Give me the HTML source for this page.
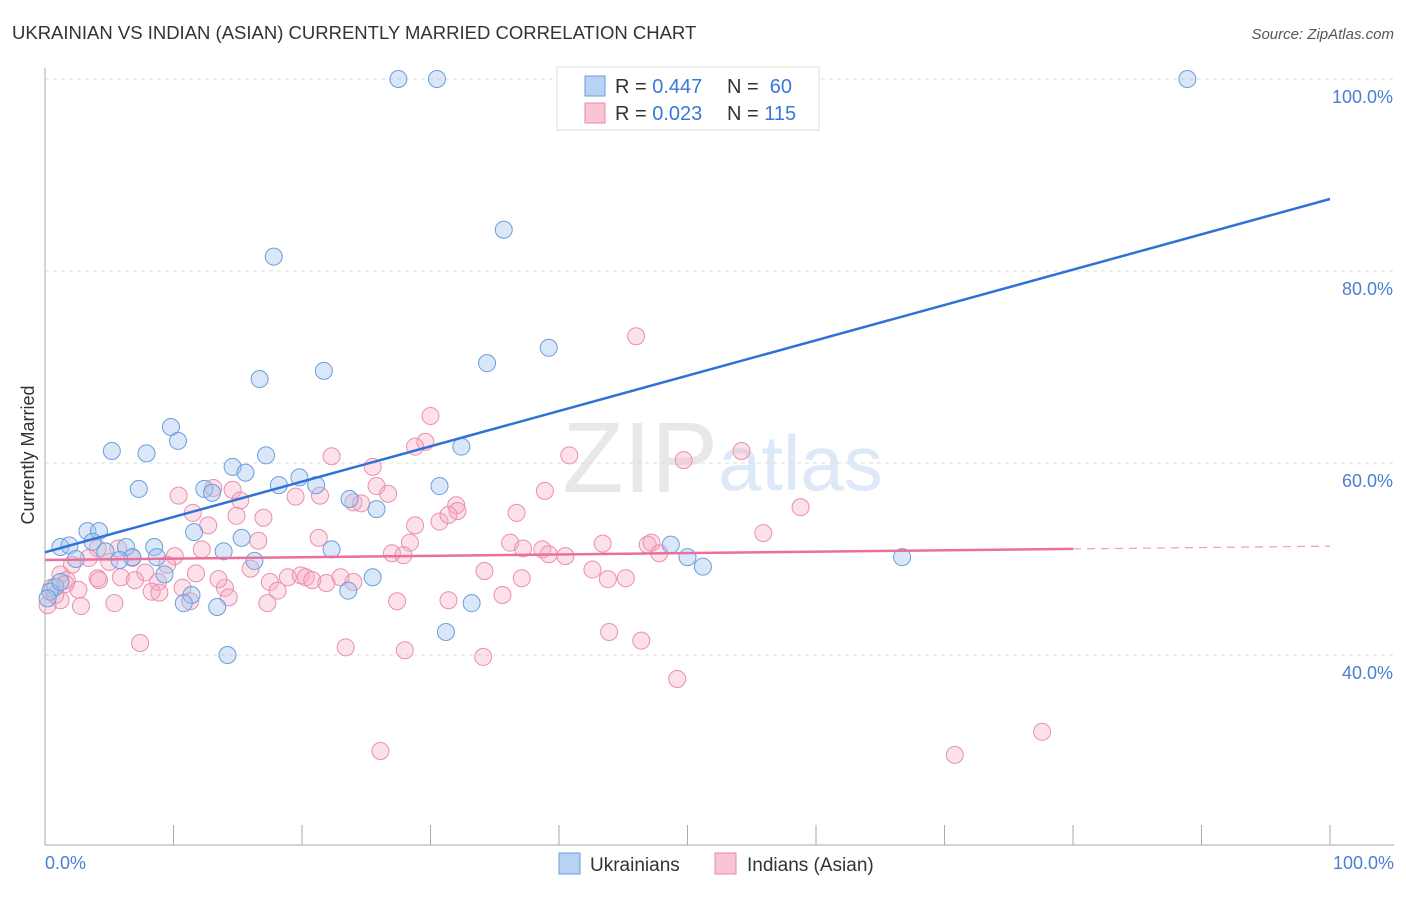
<!DOCTYPE html>
<html><head><meta charset="utf-8"><style>
body{margin:0;background:#fff;font-family:"Liberation Sans",sans-serif}
svg text{font-family:"Liberation Sans",sans-serif}
</style></head><body>
<svg id="chart" width="1406" height="892" xmlns="http://www.w3.org/2000/svg">
<text x="12" y="39" font-size="18.5" fill="#333">UKRAINIAN VS INDIAN (ASIAN) CURRENTLY MARRIED CORRELATION CHART</text>
<text x="1394" y="39" font-size="15" fill="#555" font-style="italic" text-anchor="end">Source: ZipAtlas.com</text>
<text x="718" y="492" font-size="100" fill="#e8e8e8" text-anchor="end" font-family="Liberation Serif">ZIP</text>
<text x="718" y="490" font-size="78" fill="#dde9f7">atlas</text>
<g id="grid"></g><g id="axes"></g><g id="pink"></g><g id="blue"></g><g id="lines"></g>
<text transform="translate(34,455) rotate(-90)" font-size="18" fill="#333" text-anchor="middle">Currently Married</text>
<text x="45" y="869" font-size="18" fill="#4a7fd4">0.0%</text>
<text x="1394" y="869" font-size="18" fill="#4a7fd4" text-anchor="end">100.0%</text>
<g>
<rect x="557" y="67" width="262" height="63" fill="#fff" stroke="#ddd"/>
<rect x="585" y="76" width="20" height="20" fill="#b8d2f4" stroke="#6a9fdc"/>
<rect x="585" y="103" width="20" height="20" fill="#f9c4d4" stroke="#e888a8"/>
<text x="615" y="93" font-size="20" fill="#333">R = <tspan fill="#3a78d8">0.447</tspan></text>
<text x="727" y="93" font-size="20" fill="#333">N = <tspan fill="#3a78d8">&#160;60</tspan></text>
<text x="615" y="120" font-size="20" fill="#333">R = <tspan fill="#3a78d8">0.023</tspan></text>
<text x="727" y="120" font-size="20" fill="#333">N = <tspan fill="#3a78d8">115</tspan></text>
</g>
<g>
<rect x="559" y="853" width="21" height="21" fill="#b8d2f4" stroke="#6a9fdc"/>
<text x="590" y="871" font-size="19" fill="#333">Ukrainians</text>
<rect x="715" y="853" width="21" height="21" fill="#f9c4d4" stroke="#e888a8"/>
<text x="747" y="871" font-size="19" fill="#333">Indians (Asian)</text>
</g>
</svg>
<script>
const blueX=[27.5,30.5,88.9,35.7,17.8,39.2,34.4,21.7,16.7,9.8,10.35,5.2,7.9,32.4,17.2,14.6,15.6,19.8,7.3,12.4,13.0,18.2,21.1,30.7,23.7,25.8,3.3,4.2,11.6,15.3,1.2,1.9,3.7,6.3,8.5,4.7,13.9,22.3,2.4,6.8,8.7,5.8,16.3,48.7,50.0,51.2,66.7,9.3,25.5,23.6,11.4,10.8,13.4,33.2,31.2,14.2,0.8,0.4,0.2,1.2];
const blueY=[100,100,100,84.3,81.5,72.0,70.4,69.6,68.75,63.75,62.3,61.25,61.0,61.7,60.8,59.6,59.0,58.5,57.3,57.3,56.9,57.7,57.7,57.6,56.25,55.2,52.9,52.9,52.8,52.2,51.25,51.4,51.8,51.25,51.25,50.8,50.8,51.0,50.0,50.2,50.2,49.9,49.8,51.5,50.2,49.2,50.2,48.4,48.1,46.7,46.25,45.4,45.0,45.4,42.4,40.0,47.1,46.6,45.9,47.6];
const pinkX=[46.0,30.0,29.6,28.8,54.2,40.8,49.7,25.5,22.3,25.8,26.7,38.9,32.0,32.1,10.4,13.1,14.6,15.2,19.5,21.4,24.0,24.6,17.0,14.9,12.7,11.5,28.8,30.7,31.4,36.7,58.8,55.9,21.3,36.2,43.4,46.9,47.2,47.8,37.2,38.7,40.5,39.2,28.4,27.0,27.9,4.1,3.4,5.7,6.8,10.1,12.2,16.6,16.0,9.5,5.0,2.1,1.2,1.7,4.1,5.9,7.8,7.0,8.8,18.9,19.9,20.3,20.8,21.9,23.0,24.0,34.2,37.1,42.6,43.8,45.2,17.5,18.1,10.7,11.75,14.0,8.3,8.9,2.6,0.5,1.2,2.8,5.4,11.3,14.3,17.3,27.4,31.4,35.6,7.4,23.4,28.0,34.1,43.9,46.4,49.2,26.1,70.8,77.6,0.2,0.8,1.6,4.2,13.5];
const pinkY=[73.2,64.9,62.2,61.7,61.25,60.8,60.3,59.6,60.7,57.6,56.8,57.1,55.6,55.0,56.6,57.4,57.2,56.1,56.5,56.6,55.9,55.8,54.3,54.5,53.5,54.8,53.5,53.9,54.6,54.8,55.4,52.7,52.2,51.7,51.6,51.5,51.7,50.6,51.1,51.0,50.3,50.5,51.7,50.6,50.4,51.1,50.1,51.1,50.1,50.3,51.0,51.9,49.0,49.4,49.7,49.4,48.4,47.8,48.0,48.1,48.6,47.8,47.6,48.1,48.3,48.1,47.8,47.5,48.1,47.6,48.75,48.0,48.9,47.9,48.0,47.6,46.7,47.0,48.5,47.0,46.6,46.5,46.8,47.0,45.7,45.1,45.4,45.6,46.0,45.4,45.6,45.7,46.25,41.25,40.8,40.5,39.8,42.4,41.5,37.5,30.0,29.6,32.0,45.2,46.25,47.4,47.8,47.9];
const yTicks=[40,60,80,100];
const yTickLabels=["40.0%","60.0%","80.0%","100.0%"];
const blueTrend=[50.7,87.5];
const pinkTrend=[49.9,51.05];
const NS="http://www.w3.org/2000/svg";
const sx=v=>45+v*12.85, sy=v=>79+(100-v)*9.6;
function mk(tag,attrs,parent){const e=document.createElementNS(NS,tag);for(const k in attrs)e.setAttribute(k,attrs[k]);document.getElementById(parent).appendChild(e);return e;}
yTicks.forEach((t,i)=>{
 const g=mk('line',{x1:45,x2:1394,y1:sy(t),y2:sy(t),stroke:'#ddd','stroke-dasharray':'4,4'},'grid');
 
 
 const l=mk('text',{x:1393,y:sy(t)+24,'font-size':18,fill:'#4a7fd4','text-anchor':'end'},'grid');
 l.textContent=yTickLabels[i];
 
 
});
const ax=mk('line',{x1:45,x2:45,y1:68,y2:845,stroke:'#aaa'},'axes');


const bx=mk('line',{x1:45,x2:1394,y1:845,y2:845,stroke:'#aaa'},'axes');


for(let i=0;i<=10;i++){
 const t=mk('line',{x1:sx(i*10),x2:sx(i*10),y1:825,y2:845,stroke:'#aaa'},'axes');
 
 
}
pinkX.forEach((x,i)=>{
 const c=mk('circle',{cx:sx(x),cy:sy(pinkY[i]),r:8.5,fill:'rgba(245,170,195,0.35)',stroke:'#ea8fae','stroke-width':1},'pink');
 
 
});
blueX.forEach((x,i)=>{
 const c=mk('circle',{cx:sx(x),cy:sy(blueY[i]),r:8.5,fill:'rgba(160,195,240,0.4)',stroke:'#6a9fdc','stroke-width':1},'blue');
 
 
});
const bl=mk('line',{x1:sx(0),y1:sy(blueTrend[0]),x2:sx(100),y2:sy(blueTrend[1]),stroke:'#2f72d6','stroke-width':2.5},'lines');


const pkAt=v=>pinkTrend[0]+(pinkTrend[1]-pinkTrend[0])*v/80;
const pl=mk('line',{x1:sx(0),y1:sy(pkAt(0)),x2:sx(80),y2:sy(pkAt(80)),stroke:'#e8709a','stroke-width':2.5},'lines');


const pd=mk('line',{x1:sx(80),y1:sy(pkAt(80)),x2:sx(100),y2:sy(pkAt(100)),stroke:'#e8a0b8','stroke-width':1.2,'stroke-dasharray':'8,6'},'lines');


</script>
</body></html>
